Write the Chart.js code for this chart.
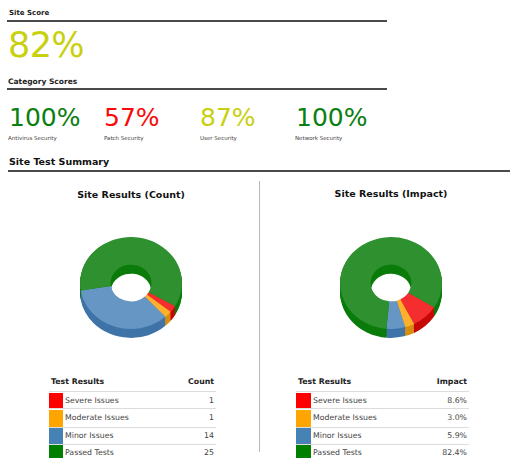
<!DOCTYPE html>
<html>
<head>
<meta charset="utf-8">
<title>Site Test Summary</title>
<script src="https://cdn.jsdelivr.net/npm/chart.js@4"></script>
<style>
  html, body { margin: 0; padding: 0; background: #fff; }
  body { width: 510px; height: 458px; overflow: hidden; position: relative; font-family: "DejaVu Sans", sans-serif; }
  .t { position: absolute; white-space: nowrap; line-height: 1; }
  .rule { position: absolute; height: 2px; background: #4a4a4a; }
  .row-line { position: absolute; height: 1px; background: #dcdcdc; }
  .swatch { position: absolute; }
  canvas { position: absolute; }
</style>
</head>
<body>
<canvas id="count-chart" width="110" height="120" style="left:76px;top:228px;width:110px;height:120px"></canvas>
<canvas id="impact-chart" width="110" height="120" style="left:336px;top:228px;width:110px;height:120px"></canvas>
<script>
// Values
const siteScore = '82%';
const categoryNames = ['Antivirus Security', 'Patch Security', 'User Security', 'Network Security'];
const categoryScores = ['100%', '57%', '87%', '100%'];
const categoryColors = ['#0a8010', '#fa0a0a', '#c8d010', '#0a8010'];
const categoryLeft = [9, 104, 200, 296];
const categoryNameLeft = [8, 104, 200, 295];

const resultNames = ['Severe Issues', 'Moderate Issues', 'Minor Issues', 'Passed Tests'];
const countValues = [1, 1, 14, 25];
const impactValues = [8.6, 3.0, 5.9, 82.4];
const legendColors = ['#ff0000', '#ffa500', '#4682b4', '#008000'];
const faceColors = ['#f42e2e', '#fdb02c', '#6596c4', '#2e902e'];
const sideColors = ['#c80808', '#d88e10', '#3f74a8', '#0b7c0b'];

const SQUASH = 0.9;
const DEPTH = 9;

// small helpers for the page text
function addText(str, left, top, size, color, bold, align) {
  const el = document.createElement('div');
  el.className = 't';
  el.textContent = str;
  el.style.top = top + 'px';
  el.style.fontSize = size + 'px';
  el.style.color = color;
  if (bold) el.style.fontWeight = 'bold';
  if (align === 'right') el.style.right = (510 - left) + 'px';
  else if (align === 'center') { el.style.left = left + 'px'; el.style.transform = 'translateX(-50%)'; }
  else el.style.left = left + 'px';
  document.body.appendChild(el);
  return el;
}

function addBox(cls, left, top, width, height, color) {
  const el = document.createElement('div');
  el.className = cls;
  el.style.left = left + 'px';
  el.style.top = top + 'px';
  el.style.width = width + 'px';
  el.style.height = height + 'px';
  if (color) el.style.background = color;
  document.body.appendChild(el);
}

// Header blocks
addText('Site Score', 9, 10, 7, '#222', true);
addBox('rule', 7, 20, 380, 2);
addText(siteScore, 8, 28, 35, '#c8d010').style.letterSpacing = '-0.6px';
addText('Category Scores', 8, 78, 7.5, '#222', true);
addBox('rule', 7, 88, 380, 2);
categoryScores.forEach((score, i) => {
  addText(score, categoryLeft[i], 105, 25, categoryColors[i]);
  addText(categoryNames[i], categoryNameLeft[i], 136, 5.5, '#444');
});
addText('Site Test Summary', 9, 157, 9.5, '#111', true);
addBox('rule', 8, 170, 502, 2);
addBox('rule', 259, 181, 1, 271, '#b8b8b8');

addText('Site Results (Count)', 131, 190, 9.5, '#111', true, 'center');
addText('Site Results (Impact)', 391, 189, 9.5, '#111', true, 'center');

// Table below each chart
const rowTops = [393, 410, 428, 445];
const rowBottoms = [409, 428, 445, 458];
function addTable(right, swatchLeft, swatchWidth, heading, labels) {
  addText('Test Results', swatchLeft + 2, 378, 7.8, '#222', true);
  addText(heading, right - 2, 378, 7.8, '#222', true, 'right');
  addBox('row-line', swatchLeft, 391, right - swatchLeft, 1);
  resultNames.forEach((name, i) => {
    addBox('swatch', swatchLeft, rowTops[i], swatchWidth, rowBottoms[i] - rowTops[i], legendColors[i]);
    addText(name, swatchLeft + swatchWidth + 2, rowTops[i] + 4, 7.8, '#444');
    addText(labels[i], right - 2, rowTops[i] + 4, 7.8, '#444', false, 'right');
    if (i < 3) addBox('row-line', swatchLeft, rowBottoms[i] - 1, right - swatchLeft, 1);
  });
}
addTable(216, 49, 14, 'Count', countValues.map(String));
addTable(469, 296, 15, 'Impact', impactValues.map(v => v.toFixed(1) + '%'));

// Fakes the tilted 3D look: squashes the doughnut and stacks dark copies under it
const tiltPlugin = {
  id: 'tilt',
  beforeDatasetsDraw(chart) {
    const ctx = chart.ctx;
    const arcs = chart.getDatasetMeta(0).data;
    const cy = arcs[0].y;
    for (let d = DEPTH; d >= 1; d--) {
      ctx.save();
      ctx.translate(0, cy + d);
      ctx.scale(1, SQUASH);
      ctx.translate(0, -cy);
      arcs.forEach((arc, i) => {
        ctx.beginPath();
        ctx.arc(arc.x, arc.y, arc.outerRadius, arc.startAngle, arc.endAngle);
        ctx.arc(arc.x, arc.y, arc.innerRadius, arc.endAngle, arc.startAngle, true);
        ctx.closePath();
        ctx.fillStyle = sideColors[i];
        ctx.fill();
      });
      ctx.restore();
    }
    ctx.save();
    ctx.translate(0, cy);
    ctx.scale(1, SQUASH);
    ctx.translate(0, -cy);
  },
  afterDatasetsDraw(chart) {
    chart.ctx.restore();
  }
};

function makeDoughnut(id, values, rotation) {
  return new Chart(document.getElementById(id).getContext('2d'), {
    type: 'doughnut',
    data: {
      labels: resultNames,
      datasets: [{
        data: values,
        backgroundColor: faceColors,
        borderWidth: 0
      }]
    },
    options: {
      responsive: false,
      animation: false,
      events: [],
      rotation: rotation,
      cutout: '40%',
      layout: { padding: { left: 4, right: 4, top: 4, bottom: 14 } },
      plugins: { legend: { display: false }, tooltip: { enabled: false } }
    },
    plugins: [tiltPlugin]
  });
}

makeDoughnut('count-chart', countValues, 120);
makeDoughnut('impact-chart', impactValues, 122);
</script>
</body>
</html>
